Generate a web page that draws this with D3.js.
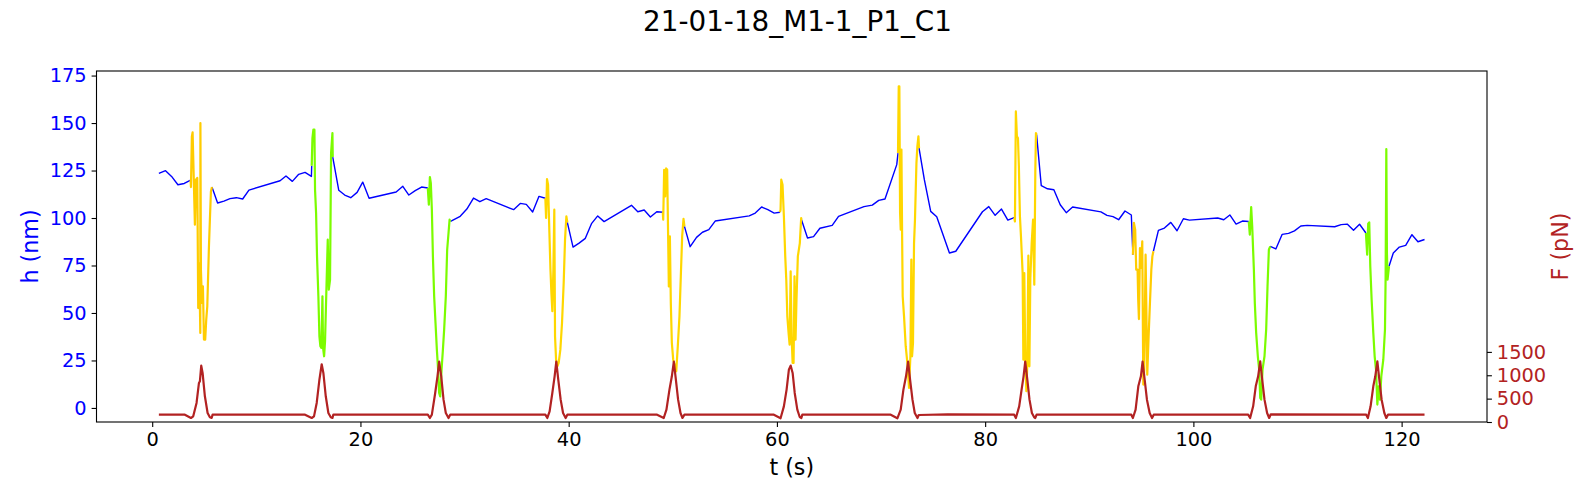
<!DOCTYPE html>
<html>
<head>
<meta charset="utf-8">
<script src="https://d3js.org/d3.v7.min.js"></script>
<style>
  body { margin: 0; background: #fff; }
  text { font-family: "DejaVu Sans", sans-serif; }
  .tick line, .frame { stroke: #000; stroke-width: 1.1; }
  .frame { fill: none; }
  .trace { fill: none; stroke-linejoin: round; }
</style>
</head>
<body>
<div id="chart"></div>
<script>
var titleText = "21-01-18_M1-1_P1_C1";
var tTicks = [0, 20, 40, 60, 80, 100, 120];
var hTicks = [0, 25, 50, 75, 100, 125, 150, 175];
var fTicks = [0, 500, 1000, 1500];

// free (no force) parts of the trace, [t, h]
var free1 = [[0.64,123.5],[1.28,124.9],[1.86,121.9],[2.47,117.5],[3.08,118.2],[3.69,120]];
var free2 = [[5.74,116.3],[6.28,107.9],[6.89,108.9],[7.47,110.2],[8.08,110.7],[8.69,110],[9.29,114.7],[12.28,119.6],[12.85,122.1],[13.46,119.3],[14.07,123],[14.68,124],[15.29,121.9],[15.32,127.5]];
var free3 = [[17.34,132.1],[17.92,114.6],[18.49,112.1],[19.07,110.7],[19.68,113.5],[20.22,118.9],[20.83,110.4],[23.43,113.7],[24.07,116.7],[24.65,112.1],[25.26,114.4],[25.87,116.3],[26.47,115.8]];
var free4 = [[28.65,98.2],[29.58,100.9],[30.22,104.7],[30.86,110.5],[31.47,108.6],[32.08,110.2],[34.71,104.4],[35.35,107.7],[35.93,107.2],[36.54,103.2],[37.15,111.4],[37.76,110.4]];
var free5 = [[39.87,97.7],[40.42,84.7],[41,86.8],[41.6,89.3],[42.21,97.2],[42.79,101.1],[43.4,98.1],[46.03,106.7],[46.64,103.3],[47.25,104.2],[47.85,100.5],[48.46,103.3],[49.04,103]];
var free6 = [[51.12,95.6],[51.67,84.9],[52.28,89.8],[52.85,92.5],[53.46,93.9],[54.07,98.4],[57.34,101.1],[57.92,102.6],[58.53,105.8],[59.13,104.4],[59.74,102.6],[60.29,103]];
var free7 = [[62.36,99.1],[62.94,89.5],[63.52,90.2],[64.13,94.6],[65.31,96.1],[65.92,100.9],[68.36,106],[69.16,106.8],[69.78,109.3],[70.38,110],[71.51,128.1],[71.63,134.2]];
var free8 = [[73.65,136.8],[74.16,120.2],[74.77,103.5],[75.35,100.7],[76.57,81.6],[77.18,82.5],[79.74,103.3],[80.35,106],[80.96,101.4],[81.57,104.7],[82.18,98.9],[82.79,100.2]];
var free9 = [[84.94,143.9],[85.39,117],[85.99,115.4],[86.6,114.9],[87.21,107],[87.79,102.8],[88.4,105.8],[91.12,103.2],[91.7,101.4],[92.28,100.7],[92.82,99.1],[93.43,103.7],[94.04,101.6],[94.19,80.7]];
var free10 = [[96.16,82.5],[96.64,93.5],[97.22,94.7],[97.83,97.7],[98.43,93.3],[99.04,99.6],[99.62,98.9],[102.34,100],[102.92,99.1],[103.5,101.6],[104.1,96.8],[104.71,98.4],[105.32,98.2]];
var free11 = [[107.38,85.1],[107.92,83.7],[108.53,91.4],[109.14,91.9],[109.71,93.2],[110.32,95.8],[110.93,96.1],[113.57,95.4],[114.19,96.5],[114.77,96.8],[115.38,93.5],[115.96,96.7],[116.57,92.1]];
var free12 = [[118.79,74.6],[119.2,81.6],[119.78,84.7],[120.39,85.6],[120.99,91.2],[121.57,87.5],[122.2,88.7]];

// compressions, the two darker yellow ones
var amber1 = [[3.69,120],[3.72,116.3],[3.81,143],[3.88,145.1],[3.97,125.4],[4.1,96.5],[4.2,120.2],[4.33,121.1],[4.42,52.6],[4.52,76.3],[4.62,39.5],[4.63,150],[4.68,72.8],[4.78,55.3],[4.87,64],[4.97,36],[5.09,36],[5.19,46.5],[5.29,53.5],[5.45,85.1],[5.54,99.1],[5.64,114],[5.74,116.3]];
var amber2 = [[94.19,80.7],[94.29,97.4],[94.41,93.9],[94.51,72.8],[94.64,72.8],[94.7,57],[94.77,46.8],[94.87,84.2],[94.96,73.7],[95.09,87.7],[95.19,12.3],[95.28,20.2],[95.41,80.7],[95.57,17.5],[95.7,37.7],[95.84,57],[95.96,72.8],[96.06,79.8],[96.16,82.5]];

// compressions, yellow ones
var gold2 = [[37.76,110.4],[37.83,100],[37.92,120.5],[38.02,117.5],[38.15,92.1],[38.25,72.8],[38.34,60.5],[38.43,50.9],[38.53,72.8],[38.62,104.4],[38.69,37.7],[38.79,25.4],[38.91,21.9],[39.04,23.7],[39.2,30.7],[39.36,44.7],[39.52,65.8],[39.65,88.6],[39.78,100.9],[39.87,97.7]];
var gold3 = [[49.04,103],[49.08,99.1],[49.17,125.4],[49.27,111.4],[49.36,126.1],[49.46,125.4],[49.52,102.6],[49.62,64],[49.72,90.4],[49.81,55.3],[49.91,34.2],[50.04,25.4],[50.17,22.8],[50.33,19.3],[50.48,32.5],[50.64,48.2],[50.77,69.3],[50.9,90.4],[51.03,99.5],[51.12,95.6]];
var gold4 = [[60.29,103],[60.35,104.4],[60.42,120.2],[60.54,117.5],[60.67,100.9],[60.8,79.8],[60.9,67.5],[61,48.2],[61.12,39.5],[61.22,33.3],[61.32,71.9],[61.41,37.7],[61.51,23.7],[61.6,23.7],[61.69,69.3],[61.79,35.9],[61.88,57],[62.01,79.8],[62.2,86.8],[62.33,100],[62.36,99.1]];
var gold5 = [[71.63,134.2],[71.7,169.3],[71.76,169.3],[71.83,102.6],[71.89,93.9],[71.96,136],[72.02,93.9],[72.08,58.8],[72.21,48.2],[72.37,32.5],[72.53,23.7],[72.69,10.5],[72.82,27.2],[72.91,78.1],[72.98,27.2],[73.07,34.2],[73.17,86.8],[73.26,99.1],[73.4,128.9],[73.49,137.7],[73.59,143],[73.65,136.8]];
var gold6 = [[82.79,100.2],[82.86,98.2],[82.95,156.1],[83.05,143],[83.15,142.1],[83.24,127.2],[83.34,100.9],[83.44,90.4],[83.6,71],[83.67,25.4],[83.76,71],[83.86,23.7],[83.96,8.8],[84.05,23.7],[84.15,80.2],[84.25,21.9],[84.34,68.4],[84.47,86.8],[84.6,99.1],[84.72,64.9],[84.82,125.4],[84.88,144.7],[84.94,143.9]];

// compressions, green ones
var green1 = [[15.32,127.5],[15.39,142.1],[15.48,146.5],[15.58,146.5],[15.64,114.9],[15.74,102.6],[15.83,79.8],[15.96,58.8],[16.06,37.7],[16.15,32.5],[16.25,31.6],[16.35,58.8],[16.41,31.6],[16.51,27.2],[16.6,35.1],[16.73,62.3],[16.86,88.6],[16.96,62.3],[17.08,67.5],[17.18,134.2],[17.31,144.7],[17.34,132.1]];
var green2 = [[26.47,115.8],[26.57,107],[26.67,121.6],[26.76,118.4],[26.86,104.4],[26.96,79.8],[27.08,58.8],[27.21,44.7],[27.34,30.7],[27.46,20.2],[27.56,7.9],[27.66,6.1],[27.79,20.2],[27.91,29.8],[28.04,41.2],[28.2,58.8],[28.33,83.3],[28.46,92.1],[28.56,99.1],[28.65,98.2]];
var green3 = [[105.32,98.2],[105.42,91.2],[105.55,105.8],[105.65,95.6],[105.81,72.8],[105.9,55.3],[106.03,39.5],[106.19,27.2],[106.32,20.2],[106.42,5.3],[106.51,4.4],[106.64,20.2],[106.83,27.2],[106.99,41.2],[107.12,64],[107.25,83.3],[107.38,85.1]];
var green4 = [[116.57,92.1],[116.69,80.7],[116.79,97],[116.89,97.7],[116.99,74.6],[117.12,57],[117.28,39.5],[117.41,27.2],[117.54,20.2],[117.67,1.8],[117.79,11.4],[117.92,4.4],[118.05,16.7],[118.24,25.4],[118.4,41.2],[118.46,67.5],[118.53,136.3],[118.59,81.6],[118.65,67.5],[118.79,74.6]];

// force, [t, F]
var force = [[0.64,157],[3.14,157],[3.72,86],[3.94,121],[4.26,407],[4.49,835],[4.58,871],[4.71,1207],[4.84,1050],[5.06,550],[5.32,193],[5.54,100],[5.71,86],[5.8,157],
  [14.68,157],[15.32,86],[15.54,121],[15.8,407],[16.06,907],[16.28,1235],[16.44,1050],[16.67,550],[16.92,193],[17.15,100],[17.31,86],[17.4,157],
  [26.47,157],[26.67,86],[26.86,157],[27.18,621],[27.4,978],[27.56,1292],[27.76,978],[27.98,478],[28.2,193],[28.46,86],[28.62,157],
  [37.76,157],[37.95,86],[38.17,228],[38.43,621],[38.65,978],[38.81,1292],[39,907],[39.23,478],[39.46,193],[39.71,86],[39.87,157],
  [48.49,157],[49.13,86],[49.39,264],[49.68,693],[49.91,978],[50.1,1292],[50.26,978],[50.51,478],[50.74,193],[50.93,86],[51.12,157],
  [59.71,157],[60.35,80],[60.67,335],[60.93,693],[61.15,1121],[61.32,1207],[61.51,1050],[61.71,621],[61.96,264],[62.19,107],[62.35,86],[62.44,157],
  [70.93,157],[71.57,79],[71.89,264],[72.15,693],[72.4,978],[72.6,1292],[72.79,907],[73.02,478],[73.24,193],[73.5,86],[73.62,150],
  [76.38,165],[82.79,157],[82.95,86],[83.27,335],[83.5,693],[83.69,978],[83.85,1292],[84.05,907],[84.26,478],[84.49,193],[84.71,100],[84.81,86],[84.94,157],
  [94.04,157],[94.19,86],[94.45,264],[94.71,764],[94.96,978],[95.12,1292],[95.32,907],[95.54,478],[95.8,193],[96.03,86],[96.19,157],
  [105.26,157],[105.45,86],[105.74,335],[105.99,764],[106.22,978],[106.42,1299],[106.61,907],[106.83,478],[107.08,193],[107.28,86],[107.43,165],
  [116.6,157],[116.76,86],[117.02,335],[117.28,764],[117.47,978],[117.67,1299],[117.86,907],[118.08,478],[118.34,193],[118.53,86],[118.69,157],[122.2,157]];

var freeParts = [free1, free2, free3, free4, free5, free6, free7, free8, free9, free10, free11, free12];
var amberParts = [amber1, amber2];
var goldParts = [gold2, gold3, gold4, gold5, gold6];
var greenParts = [green1, green2, green3, green4];

var svgWidth = 1595;
var svgHeight = 500;
var margin = { top: 71, right: 108, bottom: 78, left: 96.5 };
var width = svgWidth - margin.left - margin.right;
var height = svgHeight - margin.top - margin.bottom;

var svg = d3.select("#chart").append("svg")
  .attr("width", svgWidth)
  .attr("height", svgHeight);

var chartGroup = svg.append("g")
  .attr("transform", `translate(${margin.left}, ${margin.top})`);

var x = d3.scaleLinear().domain([-5.35, 128.2]).range([0, width]);
var yH = d3.scaleLinear().domain([-7.4, 177.4]).range([height, 0]);
var yF = d3.scaleLinear().domain([0, 7510]).range([height, 0]);

var hLine = d3.line().x(d => x(d[0])).y(d => yH(d[1]));
var fLine = d3.line().x(d => x(d[0])).y(d => yF(d[1]));

function drawParts(parts, color, w) {
  chartGroup.selectAll(null)
    .data(parts)
    .enter()
    .append("path")
    .attr("class", "trace")
    .attr("d", hLine)
    .attr("stroke", color)
    .attr("stroke-width", w);
}

drawParts(freeParts, "#0000ff", 1.4);
drawParts(amberParts, "#ffcc00", 2.2);
drawParts(goldParts, "#ffd700", 2.2);
drawParts(greenParts, "#7cfc00", 2.2);

chartGroup.append("path")
  .attr("class", "trace")
  .attr("d", fLine(force))
  .attr("stroke", "#b22222")
  .attr("stroke-width", 2.2);

// axes
function styleAxis(g, color) {
  g.select(".domain").remove();
  g.selectAll("text").attr("fill", color).style("font-size", "19.4px");
}

chartGroup.append("g")
  .attr("transform", `translate(0, ${height})`)
  .call(d3.axisBottom(x).tickValues(tTicks).tickSize(4.9).tickPadding(4.9).tickFormat(d3.format("d")))
  .call(styleAxis, "#000");

chartGroup.append("g")
  .call(d3.axisLeft(yH).tickValues(hTicks).tickSize(4.9).tickPadding(4.9).tickFormat(d3.format("d")))
  .call(styleAxis, "#0000ff");

chartGroup.append("g")
  .attr("transform", `translate(${width}, 0)`)
  .call(d3.axisRight(yF).tickValues(fTicks).tickSize(4.9).tickPadding(4.9).tickFormat(d3.format("d")))
  .call(styleAxis, "#b22222");

chartGroup.append("rect")
  .attr("class", "frame")
  .attr("width", width)
  .attr("height", height);

// labels
svg.append("text")
  .attr("x", 797.5)
  .attr("y", 31)
  .attr("text-anchor", "middle")
  .style("font-size", "27.8px")
  .text(titleText);

svg.append("text")
  .attr("x", margin.left + width / 2)
  .attr("y", 475)
  .attr("text-anchor", "middle")
  .style("font-size", "22.2px")
  .text("t (s)");

svg.append("text")
  .attr("transform", `translate(38, ${margin.top + height / 2}) rotate(-90)`)
  .attr("text-anchor", "middle")
  .attr("fill", "#0000ff")
  .style("font-size", "22.2px")
  .text("h (nm)");

svg.append("text")
  .attr("transform", `translate(1568, ${margin.top + height / 2}) rotate(-90)`)
  .attr("text-anchor", "middle")
  .attr("fill", "#b22222")
  .style("font-size", "22.2px")
  .text("F (pN)");
</script>
</body>
</html>
